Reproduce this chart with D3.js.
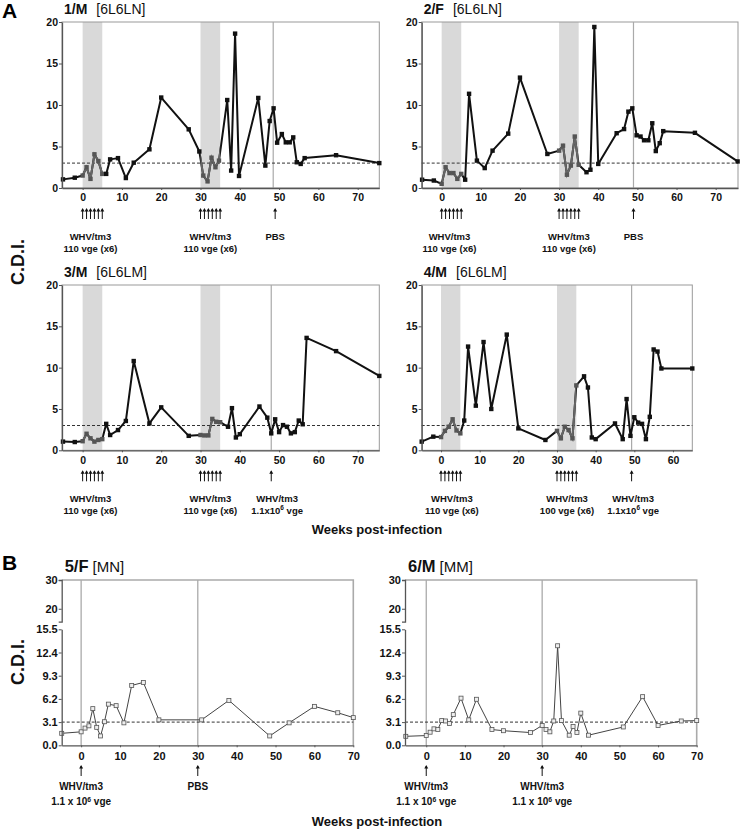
<!DOCTYPE html>
<html><head><meta charset="utf-8">
<script src="https://cdn.jsdelivr.net/npm/d3@7"></script>
<style>body{margin:0;background:#fff}svg{display:block}text{font-family:"Liberation Sans",Arial,sans-serif}</style>
</head><body><svg id="c" width="740" height="830"></svg>
<script>
// ---------- data ----------
const p1Weeks=[-5,-2,0,1,2,3,4,5,6,7,9,11,13,17,20,27,29.7,30.7,31.8,32.8,33.8,34.7,36.8,37.8,38.8,39.8,44.7,46.5,47.6,48.6,49.5,50.7,51.7,52.7,53.6,54.5,55.5,56.5,64.5,75.5];
const p1CDI=[1.04,1.24,1.5,2.5,1.1,4.06,3.25,1.7,1.7,3.45,3.6,1.2,3.05,4.66,10.9,7.07,4.4,1.5,0.8,3.65,2.5,3.3,10.6,2.1,18.6,1.45,10.85,2.7,8.07,9.6,5.46,6.5,5.5,5.5,6.1,3.1,2.9,3.6,3.95,3.0];
const p2Weeks=[-5,-2,0,1,2,3,4,5,6,7,9,11,13,17,20,27,30,31,32,33,34,35,37,38,39,40,44.7,46.6,47.7,48.7,49.8,50.8,51.7,52.8,53.8,54.7,55.7,56.6,64.7,75.6];
const p2CDI=[1.0,0.9,0.5,2.5,1.8,1.8,1.1,1.7,1.0,11.35,3.3,2.4,4.5,6.55,13.3,4.1,4.5,5.1,1.6,2.7,6.2,2.8,1.9,2.2,19.4,2.9,6.6,7.1,9.2,9.6,6.35,6.2,5.75,5.75,7.8,4.45,5.4,6.85,6.65,3.2];
const p3Weeks=[-5,-2,0,1,2,3,4,5,6,7,9,11,13,17,20,27,30,31,32,33,34,35,37,38,39,40,45,47,48,49,50,51,52,53,54,55,56,57,64.5,75.5];
const p3CDI=[1.05,1.0,1.1,2.0,1.45,1.05,1.25,1.35,3.2,1.85,2.45,3.55,10.8,3.25,5.2,1.75,1.85,1.8,1.8,3.8,3.45,3.4,2.85,5.1,1.55,1.95,5.3,3.95,2.05,3.75,2.2,3.05,2.85,2.05,2.2,3.6,3.15,13.6,12.0,9.0];
const p4Weeks=[-5,-2,0,1,2,3,4,5,6,7,9,11,13,17,20,27,30,31,32,33,34,35,37,38,39,40,45,47,48,49,50,51,52,53,54,55,56,57,65];
const p4CDI=[1.05,1.65,1.6,2.35,2.85,3.75,2.4,2.05,3.6,12.55,5.4,13.1,5.0,14.0,2.65,1.25,2.35,1.45,2.85,2.45,1.45,7.85,8.95,7.6,1.55,1.35,3.25,1.35,6.2,1.75,4.0,3.35,3.2,1.35,4.05,12.2,11.95,9.9,9.9];
const p5Weeks=[-5,0,1,2,3,4,5,6,7,9,11,13,16,20,31,38,48.5,53.5,60,66,70];
const p5CDI=[1.6,1.8,2.3,2.6,4.9,2.4,1.25,3.15,5.5,5.3,3.0,8.0,8.4,3.4,3.4,6.0,1.25,3.0,5.2,4.35,3.7];
const p6Weeks=[-5.3,0,1,2,3,4,5,6,7,9,11,13,17,20,27,30,31,32,33,34,35,37,38,39,40,42,51,56,60,66,70];
const p6CDI=[1.2,1.3,1.75,2.2,2.1,3.3,3.25,2.9,4.1,6.3,3.4,6.15,2.1,1.95,1.7,2.65,2.1,1.8,3.25,13.3,3.3,1.35,2.5,1.7,4.3,1.35,2.45,6.5,2.65,3.25,3.3];

const bandsA=[[0,5],[30,35]];
const injectionsA=[0,1,2,3,4,5,30,31,32,33,34,35];
const yTicksA=[0,5,10,15,20];
const xTicksA=[0,10,20,30,40,50,60,70];
const xTicksA4=[0,10,20,30,40,50,60];
const yTicksBLow=[0,3.1,6.2,9.3,12.4,15.5];
const yTicksBHigh=[20,30];
const thresholdA=3.0, thresholdB=3.1;

const svg=d3.select("#c");

function label(g,x,y,str,size){
  const t=g.append("text").attr("x",x).attr("y",y).attr("text-anchor","middle")
    .attr("font-size",size).attr("font-weight","bold").attr("fill","#111");
  const parts=str.split("^6");
  t.append("tspan").text(parts[0]);
  if(parts.length>1){
    t.append("tspan").attr("dy",-3.5).attr("font-size",size*0.68).text("6");
    t.append("tspan").attr("dy",3.5).text(parts[1]);
  }
}
function arrow(g,x,yTop,yBot){
  g.append("line").attr("x1",x).attr("x2",x).attr("y1",yTop+1).attr("y2",yBot)
    .attr("stroke","#111").attr("stroke-width",1);
  g.append("path").attr("d",`M${x-2},${yTop+3.5}L${x},${yTop}L${x+2},${yTop+3.5}Z`).attr("fill","#111");
}

function panelA(c,id){
  const x=d3.scaleLinear().domain(c.xd).range([c.l,c.r]);
  const y=d3.scaleLinear().domain([0,20]).range([c.b,c.t]);
  const g=svg.append("g");
  // bands
  bandsA.forEach(b=>g.append("rect").attr("x",x(b[0])).attr("y",c.t).attr("width",x(b[1])-x(b[0])).attr("height",c.b-c.t).attr("fill","#d9d9d9"));
  // frame
  g.append("rect").attr("x",c.l).attr("y",c.t).attr("width",c.r-c.l).attr("height",c.b-c.t).attr("fill","none").attr("stroke","#999").attr("stroke-width",1);
  // pbs line
  g.append("line").attr("x1",x(c.vline)).attr("x2",x(c.vline)).attr("y1",c.t).attr("y2",c.b).attr("stroke","#aaa").attr("stroke-width",1.2);
  // threshold
  g.append("line").attr("x1",c.l).attr("x2",c.r).attr("y1",y(thresholdA)).attr("y2",y(thresholdA)).attr("stroke","#333").attr("stroke-dasharray","3,2").attr("stroke-width",1);
  // clip
  const cp=svg.append("clipPath").attr("id","band"+id);
  bandsA.forEach(b=>cp.append("rect").attr("x",x(b[0])).attr("y",c.t).attr("width",x(b[1])-x(b[0])).attr("height",c.b-c.t));
  const pts=c.w.map((w,i)=>[w,c.v[i]]);
  const line=d3.line().x(d=>x(d[0])).y(d=>y(d[1]));
  g.append("path").datum(pts).attr("d",line).attr("fill","none").attr("stroke","#111").attr("stroke-width",2).attr("stroke-linejoin","round");
  g.append("path").datum(pts).attr("d",line).attr("fill","none").attr("stroke","#666").attr("stroke-width",2).attr("clip-path",`url(#band${id})`);
  const inBand=w=>bandsA.some(b=>w>=b[0]-0.1&&w<=b[1]+0.1);
  g.selectAll("rect.m").data(pts).join("rect").attr("class","m")
    .attr("x",d=>x(d[0])-2.2).attr("y",d=>y(d[1])-2.2).attr("width",4.4).attr("height",4.4)
    .attr("fill",d=>inBand(d[0])?"#555":"#111");
  // axes
  const ya=g.append("g").attr("transform",`translate(${c.l},0)`).call(d3.axisLeft(y).tickValues(yTicksA).tickSize(3).tickSizeOuter(0).tickPadding(1));
  const xa=g.append("g").attr("transform",`translate(0,${c.b})`).call(d3.axisBottom(x).tickValues(c.xt).tickSize(2).tickSizeOuter(0).tickPadding(4));
  [ya,xa].forEach(a=>{a.select(".domain").attr("stroke","#555").attr("stroke-width",1.3);
    a.selectAll(".tick line").attr("stroke","#555");
    a.selectAll("text").attr("font-size",10.5).attr("font-weight","bold").attr("fill","#111").attr("font-family","'Liberation Sans',Arial,sans-serif");});
  // title
  const tt=g.append("text").attr("x",c.l+2).attr("y",c.t-8).attr("font-size",14).attr("fill","#111");
  tt.append("tspan").attr("font-weight","bold").text(c.title);
  tt.append("tspan").attr("dx",9).text(c.sub);
  // arrows
  c.arrows.forEach(w=>arrow(g,x(w),c.b+20,c.b+31));
  c.labels.forEach(lb=>lb.lines.forEach((s,i)=>label(g,x(lb.w),c.b+52+i*11.5,s,9.5)));
}

function panelB(c,id){
  const x=d3.scaleLinear().domain(c.xd).range([c.l,c.r]);
  const yLow=d3.scaleLinear().domain([0,15.5]).range([745.3,629.3]);
  const yHigh=d3.scaleLinear().domain([15.5,30]).range([621.7,c.t]);
  const g=svg.append("g");
  g.append("path").attr("d",`M${c.l},${c.t}H${c.r}V${745.3}`).attr("fill","none").attr("stroke","#aaa").attr("stroke-width",1.6);
  c.vlines.forEach(v=>g.append("line").attr("x1",x(v)).attr("x2",x(v)).attr("y1",c.t).attr("y2",745.3).attr("stroke","#aaa").attr("stroke-width",1.3));
  g.append("line").attr("x1",c.l).attr("x2",c.r).attr("y1",yLow(thresholdB)).attr("y2",yLow(thresholdB)).attr("stroke","#333").attr("stroke-dasharray","3,2").attr("stroke-width",1);
  const pts=c.w.map((w,i)=>[w,c.v[i]]);
  g.append("path").datum(pts).attr("d",d3.line().x(d=>x(d[0])).y(d=>yLow(d[1]))).attr("fill","none").attr("stroke","#444").attr("stroke-width",1);
  g.selectAll("rect.m").data(pts).join("rect").attr("class","m")
    .attr("x",d=>x(d[0])-2).attr("y",d=>yLow(d[1])-2).attr("width",4).attr("height",4)
    .attr("fill","#eee").attr("stroke","#555").attr("stroke-width",0.8);
  const a1=g.append("g").attr("transform",`translate(${c.l},0)`).call(d3.axisLeft(yLow).tickValues(yTicksBLow).tickFormat(d3.format(".1f")).tickSize(3).tickSizeOuter(0).tickPadding(1));
  const a2=g.append("g").attr("transform",`translate(${c.l},0)`).call(d3.axisLeft(yHigh).tickValues(yTicksBHigh).tickFormat(d3.format("d")).tickSize(3).tickSizeOuter(3).tickPadding(1));
  const a3=g.append("g").attr("transform",`translate(0,745.3)`).call(d3.axisBottom(x).tickValues(xTicksA).tickSize(2).tickSizeOuter(0).tickPadding(5));
  [a1,a2,a3].forEach(a=>{a.select(".domain").attr("stroke","#555").attr("stroke-width",1.3);
    a.selectAll(".tick line").attr("stroke","#555");
    a.selectAll("text").attr("font-size",11).attr("font-weight","bold").attr("fill","#111").attr("font-family","'Liberation Sans',Arial,sans-serif");});
  const tt=g.append("text").attr("x",c.l+3).attr("y",572).attr("fill","#111");
  tt.append("tspan").attr("font-weight","bold").attr("font-size",16.5).text(c.title);
  tt.append("tspan").attr("dx",4).attr("font-size",15).text(c.sub);
  c.arrows.forEach(w=>arrow(g,x(w),765,776));
  c.labels.forEach(lb=>lb.lines.forEach((s,i)=>label(g,x(lb.w),790+i*15,s,10)));
}

const L1=["WHV/tm3","110 vge (x6)"];
panelA({l:62,r:379.3,t:22,b:188,xd:[-5.25,75.5],w:p1Weeks,v:p1CDI,vline:48.5,xt:xTicksA,title:"1/M",sub:"[6L6LN]",
  arrows:injectionsA.concat([49]),labels:[{w:2,lines:L1},{w:32.5,lines:L1},{w:49,lines:["PBS"]}]},1);
panelA({l:421.7,r:738,t:22,b:188,xd:[-5.1,75.7],w:p2Weeks,v:p2CDI,vline:49,xt:xTicksA,title:"2/F",sub:"[6L6LN]",
  arrows:injectionsA.concat([49]),labels:[{w:2,lines:L1},{w:32.5,lines:L1},{w:49,lines:["PBS"]}]},2);
panelA({l:62,r:379.3,t:285,b:450.3,xd:[-5.25,75.5],w:p3Weeks,v:p3CDI,vline:48,xt:xTicksA,title:"3/M",sub:"[6L6LM]",
  arrows:injectionsA.concat([48]),labels:[{w:2,lines:L1},{w:32.5,lines:L1},{w:49.5,lines:["WHV/tm3","1.1x10^6 vge"]}]},3);
panelA({l:421.7,r:692.3,t:285,b:450.3,xd:[-5,65],w:p4Weeks,v:p4CDI,vline:49.3,xt:xTicksA4,title:"4/M",sub:"[6L6LM]",
  arrows:injectionsA.concat([49.3]),labels:[{w:2.8,lines:L1},{w:32.6,lines:["WHV/tm3","100 vge (x6)"]},{w:49.7,lines:["WHV/tm3","1.1x10^6 vge"]}]},4);
panelB({l:61.7,r:353.3,t:580,xd:[-5,70],w:p5Weeks,v:p5CDI,vlines:[0,30],title:"5/F",sub:"[MN]",
  arrows:[0,30],labels:[{w:0,lines:["WHV/tm3","1.1 x 10^6 vge"]},{w:30,lines:["PBS"]}]},5);
panelB({l:405,r:696.7,t:580,xd:[-5.5,70],w:p6Weeks,v:p6CDI,vlines:[0,30],title:"6/M",sub:"[MM]",
  arrows:[0,30],labels:[{w:0,lines:["WHV/tm3","1.1 x 10^6 vge"]},{w:30,lines:["WHV/tm3","1.1 x 10^6 vge"]}]},6);

// global labels
svg.append("text").attr("x",2).attr("y",18).attr("font-size",21).attr("font-weight","bold").text("A");
svg.append("text").attr("x",2).attr("y",570).attr("font-size",21).attr("font-weight","bold").text("B");
[[262],[662]].forEach(([cy])=>svg.append("text").attr("transform",`translate(24,${cy}) rotate(-90)`).attr("text-anchor","middle")
  .attr("font-size",18).attr("font-weight","bold").attr("fill","#111").text("C.D.I."));
[534,826].forEach(yy=>svg.append("text").attr("x",377).attr("y",yy).attr("text-anchor","middle").attr("font-size",13).attr("font-weight","bold").attr("fill","#111").text("Weeks post-infection"));
</script></body></html>
